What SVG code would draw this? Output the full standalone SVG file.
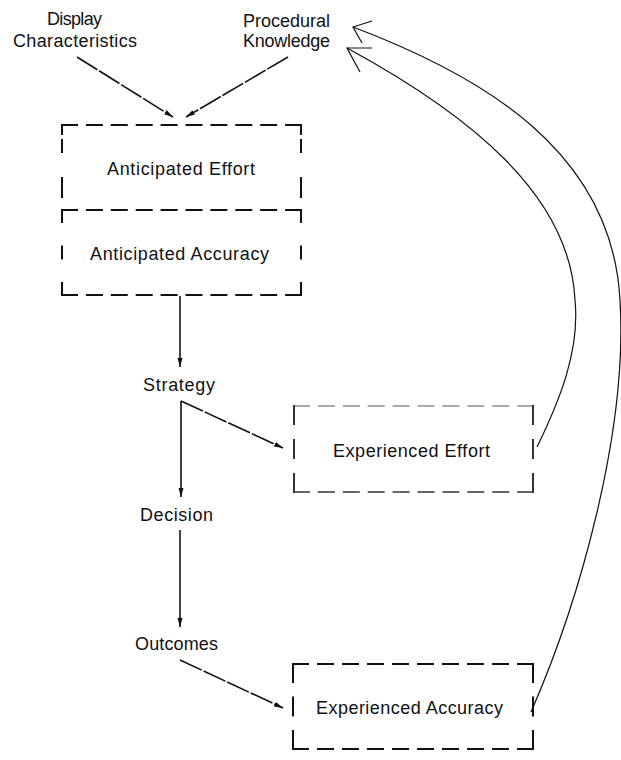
<svg xmlns="http://www.w3.org/2000/svg" width="621" height="760" viewBox="0 0 621 760">
<style>
text{font-family:"Liberation Sans",Arial,sans-serif;font-size:18px;fill:#111}
.bx{fill:none;stroke:#111;stroke-width:2;stroke-linecap:square}
.h{stroke-dasharray:15 9.9}
.v1{stroke-dasharray:9 6 12 26 19 100}
.v2{stroke-dasharray:12 24.5}
.gy{stroke:#666}
.gyt{stroke:#aaa}
.c{fill:none;stroke:#111;stroke-width:1.6}
.d{stroke-dasharray:24 2}
.fb{fill:none;stroke:#111;stroke-width:1.2}
</style>
<defs>
<marker id="ah" markerUnits="userSpaceOnUse" markerWidth="10" markerHeight="6" refX="9" refY="2.5" orient="auto">
<path d="M0,0 L9,2.5 L0,5 z" fill="#111"/>
</marker>
</defs>
<g id="display-characteristics">
<text x="47" y="25" textLength="55" lengthAdjust="spacing">Display</text>
<text x="13" y="47" textLength="124" lengthAdjust="spacing">Characteristics</text>
</g>
<g id="procedural-knowledge">
<text x="243" y="27" textLength="87" lengthAdjust="spacing">Procedural</text>
<text x="243" y="47" textLength="87" lengthAdjust="spacing">Knowledge</text>
</g>
<g id="anticipated-effort">
<path class="bx h" d="M62 125 H301"/>
<path class="bx v1" d="M62 125 V210"/>
<path class="bx v1" d="M301 125 V210"/>
<text x="107" y="175" textLength="148" lengthAdjust="spacing">Anticipated Effort</text>
</g>
<g id="anticipated-accuracy">
<path class="bx h" d="M62 210 H301"/>
<path class="bx h" d="M62 295 H301"/>
<path class="bx v2" d="M62 210 V295"/>
<path class="bx v2" d="M301 210 V295"/>
<text x="90" y="260" textLength="179" lengthAdjust="spacing">Anticipated Accuracy</text>
</g>
<g id="strategy">
<text x="143" y="391" textLength="72" lengthAdjust="spacing">Strategy</text>
</g>
<g id="experienced-effort">
<path class="bx h gyt" d="M294 406 H533"/>
<path class="bx h gy" d="M294 492 H533"/>
<path class="bx" style="stroke-dasharray:18 16;stroke:#333" d="M294 406 V492"/>
<path class="bx" style="stroke-dasharray:18 16;stroke:#333" d="M533 406 V492"/>
<text x="333" y="457" textLength="157" lengthAdjust="spacing">Experienced Effort</text>
</g>
<g id="decision">
<text x="140" y="521" textLength="73" lengthAdjust="spacing">Decision</text>
</g>
<g id="outcomes">
<text x="135" y="650" textLength="83" lengthAdjust="spacing">Outcomes</text>
</g>
<g id="experienced-accuracy">
<path class="bx" style="stroke-dasharray:15 10" d="M293 664 H533"/>
<path class="bx" style="stroke-dasharray:15 10" d="M293 749 H533"/>
<path class="bx" style="stroke-dasharray:18 15.5" d="M293 664 V749"/>
<path class="bx" style="stroke-dasharray:18 15.5" d="M533 664 V749"/>
<text x="316" y="714" textLength="187" lengthAdjust="spacing">Experienced Accuracy</text>
</g>
<g id="connectors">
<path class="c d" d="M77 57 L173 117" marker-end="url(#ah)"/>
<path class="c d" d="M288 57 L186 117" marker-end="url(#ah)"/>
<path class="c" d="M180 296 V367" marker-end="url(#ah)"/>
<path class="c" d="M181 401 V497" marker-end="url(#ah)"/>
<path class="c d" d="M181 401 L283 448" marker-end="url(#ah)"/>
<path class="c" d="M180 530 V627" marker-end="url(#ah)"/>
<path class="c d" d="M180 660 L283 708" marker-end="url(#ah)"/>
<path class="fb" d="M531 712 C580 600, 628 430, 620 300 C612 150, 480 75, 353 27"/>
<path class="fb" d="M372 21 L353 27 L362 43"/>
<path class="fb" d="M537 447 C560 400, 580 350, 575 300 C570 195, 470 115, 347 48"/>
<path class="fb" d="M372 48 L347 48 L360 72"/>
</g>
</svg>
